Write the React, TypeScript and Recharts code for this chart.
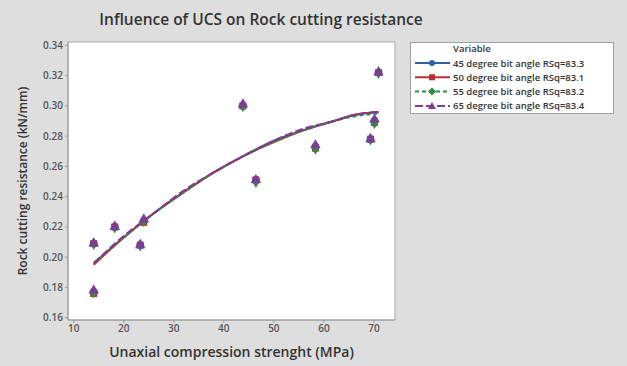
import React from 'react'
import {
  ComposedChart, Line, Scatter, XAxis, YAxis, ZAxis, CartesianGrid, ReferenceArea, Label,
} from 'recharts'

// measured points: uniaxial compressive strength (MPa) vs cutting resistance (kN/mm)
const ucs = [14.0, 14.0, 18.2, 23.3, 24.0, 43.8, 46.4, 58.3, 69.3, 70.1, 70.9]
const res45 = [0.209, 0.177, 0.220, 0.208, 0.224, 0.300, 0.251, 0.273, 0.278, 0.290, 0.322]
const res50 = [0.209, 0.176, 0.220, 0.208, 0.223, 0.300, 0.251, 0.272, 0.278, 0.289, 0.322]
const res55 = [0.209, 0.177, 0.220, 0.208, 0.224, 0.300, 0.250, 0.272, 0.278, 0.289, 0.322]
const res65 = [0.209, 0.178, 0.220, 0.208, 0.225, 0.301, 0.251, 0.274, 0.278, 0.291, 0.322]

const fitUcs = [14, 20, 26, 32, 38, 44, 50, 56, 62, 66, 70.9]
const fit45 = [0.196, 0.213, 0.229, 0.243, 0.256, 0.267, 0.277, 0.284, 0.290, 0.294, 0.296]
const fit50 = [0.195, 0.213, 0.229, 0.243, 0.256, 0.267, 0.276, 0.284, 0.290, 0.294, 0.296]
const fit55 = [0.196, 0.213, 0.229, 0.243, 0.256, 0.267, 0.276, 0.284, 0.290, 0.293, 0.295]
const fit65 = [0.196, 0.214, 0.229, 0.244, 0.256, 0.267, 0.277, 0.285, 0.290, 0.294, 0.296]

const xTicks = [10, 20, 30, 40, 50, 60, 70]
const yTicks = [0.16, 0.18, 0.2, 0.22, 0.24, 0.26, 0.28, 0.3, 0.32, 0.34]
const xDomain = [8.86, 74.2]
const yDomain = [0.1585, 0.3422]

const FONT = '"Open Sans", "Noto Sans", sans-serif'

const toPoints = (xs: number[], ys: number[]) => xs.map((x, i) => ({ x, y: ys[i] }))

const series = [
  { name: '45 degree bit angle RSq=83.3', color: '#2f5f9e', dash: undefined, shape: 'circle', obs: res45, fit: fit45 },
  { name: '50 degree bit angle RSq=83.1', color: '#b8312f', dash: undefined, shape: 'square', obs: res50, fit: fit50 },
  { name: '55 degree bit angle RSq=83.2', color: '#2e8b4a', dash: '4 3', shape: 'diamond', obs: res55, fit: fit55 },
  { name: '65 degree bit angle RSq=83.4', color: '#7d3c98', dash: '8 3', shape: 'triangle', obs: res65, fit: fit65 },
]

// small marker used in the legend rows
const LegendMarker = ({ shape, x, y, color }: any) => {
  if (shape === 'circle') return <circle cx={x} cy={y} r={3} fill={color} />
  if (shape === 'square') return <rect x={x - 3} y={y - 3} width={6} height={6} fill={color} />
  if (shape === 'diamond') return <polygon points={`${x},${y - 4} ${x + 4},${y} ${x},${y + 4} ${x - 4},${y}`} fill={color} />
  return <polygon points={`${x},${y - 4} ${x + 4},${y + 3} ${x - 4},${y + 3}`} fill={color} />
}

const LegendBox = () => (
  <svg width={204} height={72} style={{ position: 'absolute', left: 410, top: 42 }}>
    <rect x={0.5} y={0.5} width={203} height={71} fill="#fff" stroke="#a0a0a0" />
    <text x={43} y={10} fontSize={9.5} fontWeight={600} fill="#333" fontFamily={FONT}>Variable</text>
    {series.map((s, i) => {
      const y = 21 + i * 14.3
      return (
        <g key={s.name}>
          <line x1={5} x2={40} y1={y} y2={y} stroke={s.color} strokeWidth={2} strokeDasharray={s.dash} />
          <LegendMarker shape={s.shape} x={22} y={y} color={s.color} />
          <text x={43} y={y + 3.5} fontSize={9.5} fontWeight={600} fill="#333" fontFamily={FONT}>{s.name}</text>
        </g>
      )
    })}
  </svg>
)

export default function App() {
  return (
    <div style={{ position: 'fixed', left: 0, top: 0, width: 627, height: 366, background: '#dedede', fontFamily: FONT }}>
      <div style={{ position: 'absolute', left: 0, top: 8, width: 522, textAlign: 'center', fontSize: 15.5, fontWeight: 600, color: '#333' }}>
        Influence of UCS on Rock cutting resistance
      </div>
      <ComposedChart width={627} height={366} margin={{ top: 42, right: 232, bottom: 0, left: 0 }}>
        <CartesianGrid fill="#ffffff" horizontal={false} vertical={false} />
        <ZAxis range={[48, 48]} />
        <XAxis
          type="number"
          dataKey="x"
          domain={xDomain}
          ticks={xTicks}
          allowDataOverflow
          height={46}
          tickSize={3}
          stroke="#9a9a9a"
          tick={{ fontSize: 10, fill: '#555', fontFamily: FONT, fontWeight: 600 }}
        >
          <Label
            content={(p: any) => {
              const { x, width } = p.viewBox
              return (
                <text x={x + width / 2} y={357} textAnchor="middle" fontSize={14} fontWeight={600} fill="#333" fontFamily={FONT}>
                  Unaxial compression strenght (MPa)
                </text>
              )
            }}
          />
        </XAxis>
        <YAxis
          type="number"
          dataKey="y"
          domain={yDomain}
          ticks={yTicks}
          allowDataOverflow
          width={68}
          tickSize={3}
          stroke="#9a9a9a"
          tickFormatter={(v: number) => v.toFixed(2)}
          tick={{ fontSize: 10, fill: '#555', fontFamily: FONT, fontWeight: 600 }}
        >
          <Label
            content={() => (
              <text x={24} y={181} transform="rotate(-90 24 181)" textAnchor="middle" dominantBaseline="middle" fontSize={12} fontWeight={600} fill="#333" fontFamily={FONT}>
                Rock cutting resistance (kN/mm)
              </text>
            )}
          />
        </YAxis>
        <ReferenceArea x1={xDomain[0]} x2={xDomain[1]} y1={yDomain[0]} y2={yDomain[1]} fill="none" stroke="#a8a8a8" ifOverflow="visible" />
        {series.map((s) => (
          <Line
            key={`fit-${s.name}`}
            data={toPoints(fitUcs, s.fit)}
            dataKey="y"
            type="monotone"
            stroke={s.color}
            strokeWidth={2}
            strokeDasharray={s.dash}
            dot={false}
            activeDot={false}
            isAnimationActive={false}
          />
        ))}
        {series.map((s) => (
          <Scatter
            key={`obs-${s.name}`}
            data={toPoints(ucs, s.obs)}
            dataKey="y"
            shape={s.shape as any}
            fill={s.color}
            isAnimationActive={false}
          />
        ))}
      </ComposedChart>
      <LegendBox />
    </div>
  )
}
